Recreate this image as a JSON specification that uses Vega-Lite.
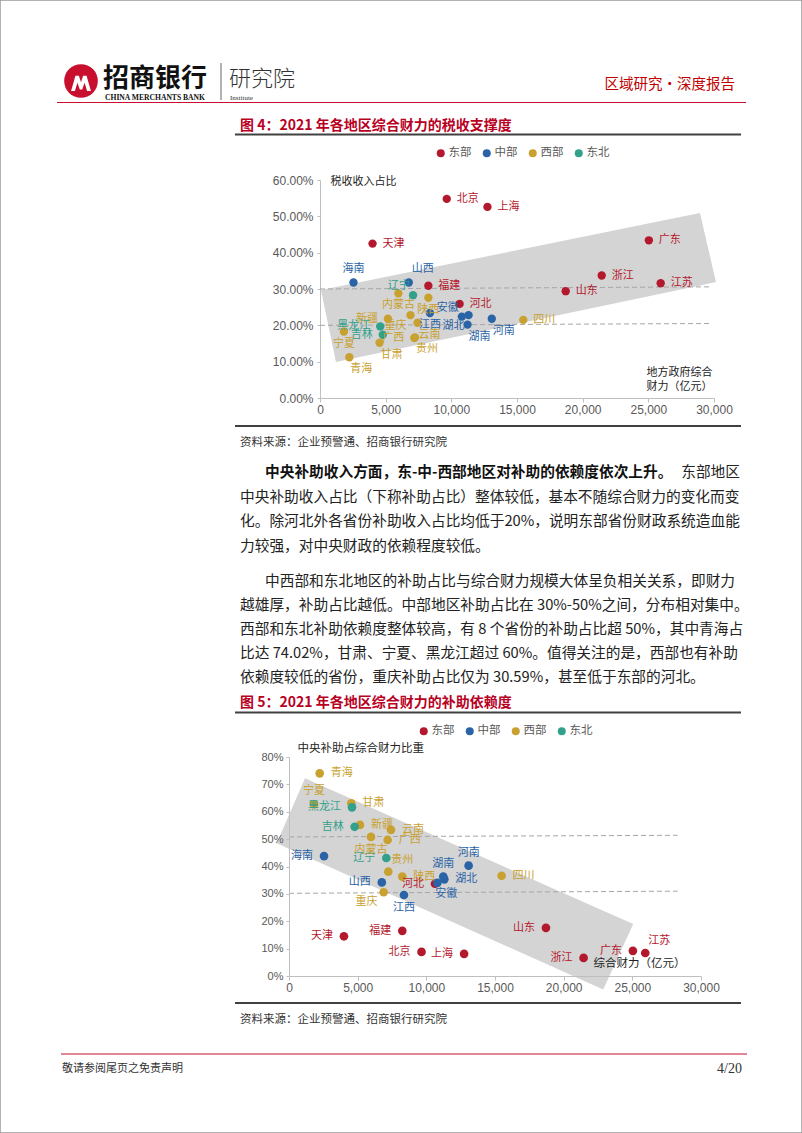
{
  "$schema": "https://vega.github.io/schema/vega-lite/v6.json",
  "width": 802,
  "height": 1133,
  "autosize": {"type": "none"},
  "padding": 0,
  "background": "#ffffff",
  "config": {
    "view": {"stroke": "#9a9a9a", "strokeWidth": 1.5},
    "font": "Noto Sans CJK SC",
    "axis": {"grid": false, "domainColor": "#BFBFBF", "tickColor": "#BFBFBF", "labelColor": "#595959", "labelFont": "Liberation Sans", "titleFont": "Noto Sans CJK SC", "titleColor": "#222222", "titleFontWeight": "normal", "labelFlush": false},
    "legend": {"orient": "none", "direction": "horizontal", "title": null, "symbolType": "circle", "symbolSize": 64, "labelFontSize": 11.5, "labelColor": "#595959", "labelFont": "Noto Sans CJK SC", "columnPadding": 9, "labelOffset": 2, "symbolStrokeWidth": 0}
  },
  "datasets": {
    "prov": [
      {"name": "北京", "region": "东部", "finance": 9650, "tax": 0.548, "subsidy": 0.088, "p1": "r", "p2": "l"},
      {"name": "天津", "region": "东部", "finance": 4000, "tax": 0.425, "subsidy": 0.145, "p1": "r", "p2": "l"},
      {"name": "河北", "region": "东部", "finance": 10630, "tax": 0.259, "subsidy": 0.337, "p1": "r", "p2": "l"},
      {"name": "上海", "region": "东部", "finance": 12750, "tax": 0.526, "subsidy": 0.081, "p1": "r", "p2": "l"},
      {"name": "江苏", "region": "东部", "finance": 25940, "tax": 0.316, "subsidy": 0.084, "p1": "r", "p2": "ar"},
      {"name": "浙江", "region": "东部", "finance": 21450, "tax": 0.337, "subsidy": 0.066, "p1": "r", "p2": "l"},
      {"name": "福建", "region": "东部", "finance": 8250, "tax": 0.309, "subsidy": 0.165, "p1": "r", "p2": "l"},
      {"name": "山东", "region": "东部", "finance": 18710, "tax": 0.294, "subsidy": 0.176, "p1": "r", "p2": "l"},
      {"name": "广东", "region": "东部", "finance": 25040, "tax": 0.434, "subsidy": 0.092, "p1": "r", "p2": "l"},
      {"name": "海南", "region": "中部", "finance": 2550, "tax": 0.318, "subsidy": 0.438, "p1": "a", "p2": "l"},
      {"name": "山西", "region": "中部", "finance": 6760, "tax": 0.318, "subsidy": 0.342, "p1": "ar", "p2": "l"},
      {"name": "安徽", "region": "中部", "finance": 10800, "tax": 0.224, "subsidy": 0.34, "p1": "al", "p2": "br"},
      {"name": "江西", "region": "中部", "finance": 8370, "tax": 0.234, "subsidy": 0.296, "p1": "b", "p2": "b"},
      {"name": "河南", "region": "中部", "finance": 13080, "tax": 0.218, "subsidy": 0.403, "p1": "br", "p2": "a"},
      {"name": "湖北", "region": "中部", "finance": 11310, "tax": 0.228, "subsidy": 0.353, "p1": "bl", "p2": "r"},
      {"name": "湖南", "region": "中部", "finance": 11235, "tax": 0.202, "subsidy": 0.363, "p1": "br", "p2": "a"},
      {"name": "内蒙古", "region": "西部", "finance": 5970, "tax": 0.288, "subsidy": 0.508, "p1": "b", "p2": "b"},
      {"name": "广西", "region": "西部", "finance": 7183, "tax": 0.165, "subsidy": 0.497, "p1": "l", "p2": "r"},
      {"name": "重庆", "region": "西部", "finance": 6890, "tax": 0.228, "subsidy": 0.3059, "p1": "bl", "p2": "bl"},
      {"name": "四川", "region": "西部", "finance": 15480, "tax": 0.215, "subsidy": 0.366, "p1": "r", "p2": "r"},
      {"name": "贵州", "region": "西部", "finance": 7230, "tax": 0.167, "subsidy": 0.381, "p1": "br", "p2": "ar"},
      {"name": "云南", "region": "西部", "finance": 7426, "tax": 0.207, "subsidy": 0.534, "p1": "br", "p2": "r"},
      {"name": "陕西", "region": "西部", "finance": 8250, "tax": 0.276, "subsidy": 0.363, "p1": "b", "p2": "r"},
      {"name": "甘肃", "region": "西部", "finance": 4536, "tax": 0.152, "subsidy": 0.631, "p1": "br", "p2": "r"},
      {"name": "青海", "region": "西部", "finance": 2234, "tax": 0.112, "subsidy": 0.7402, "p1": "br", "p2": "r"},
      {"name": "宁夏", "region": "西部", "finance": 1820, "tax": 0.183, "subsidy": 0.627, "p1": "b", "p2": "a"},
      {"name": "新疆", "region": "西部", "finance": 5170, "tax": 0.218, "subsidy": 0.552, "p1": "l", "p2": "r"},
      {"name": "辽宁", "region": "东北", "finance": 7085, "tax": 0.283, "subsidy": 0.431, "p1": "al", "p2": "l"},
      {"name": "吉林", "region": "东北", "finance": 4780, "tax": 0.174, "subsidy": 0.545, "p1": "l", "p2": "l"},
      {"name": "黑龙江", "region": "东北", "finance": 4586, "tax": 0.197, "subsidy": 0.616, "p1": "l", "p2": "l"}
    ],
    "band1": [
      {"finance": 76, "tax": 0.297, "tax2": 0.297},
      {"finance": 1218, "tax": 0.3054, "tax2": 0.099},
      {"finance": 28933, "tax": 0.509, "tax2": 0.3097},
      {"finance": 30151, "tax": 0.319, "tax2": 0.319}
    ],
    "ref1": [
      {"finance": 0, "tax": 0.3, "finance2": 29800, "tax2": 0.306},
      {"finance": 0, "tax": 0.2, "finance2": 29800, "tax2": 0.205}
    ],
    "band2": [
      {"finance": -895, "subsidy": 0.485, "subsidy2": 0.485},
      {"finance": 1165, "subsidy": 0.722, "subsidy2": 0.4387},
      {"finance": 22880, "subsidy": 0.2386, "subsidy2": -0.049},
      {"finance": 25065, "subsidy": 0.19, "subsidy2": 0.19}
    ],
    "ref2": [
      {"finance": 0, "subsidy": 0.508, "finance2": 28300, "subsidy2": 0.514},
      {"finance": 0, "subsidy": 0.302, "finance2": 28300, "subsidy2": 0.31}
    ],
    "para1": [
      {"line": 1, "indent": 1, "seg": "bold", "text": "中央补助收入方面，东-中-西部地区对补助的依赖度依次上升。"},
      {"line": 1, "indent": 1, "seg": "tail", "text": "东部地区"},
      {"line": 2, "indent": 0, "seg": "body", "text": "中央补助收入占比（下称补助占比）整体较低，基本不随综合财力的变化而变"},
      {"line": 3, "indent": 0, "seg": "body", "text": "化。除河北外各省份补助收入占比均低于20%，说明东部省份财政系统造血能"},
      {"line": 4, "indent": 0, "seg": "body", "text": "力较强，对中央财政的依赖程度较低。"}
    ],
    "para2": [
      {"line": 1, "indent": 1, "seg": "body", "text": "中西部和东北地区的补助占比与综合财力规模大体呈负相关关系，即财力"},
      {"line": 2, "indent": 0, "seg": "body", "text": "越雄厚，补助占比越低。中部地区补助占比在 30%-50%之间，分布相对集中。"},
      {"line": 3, "indent": 0, "seg": "body", "text": "西部和东北补助依赖度整体较高，有 8 个省份的补助占比超 50%，其中青海占"},
      {"line": 4, "indent": 0, "seg": "body", "text": "比达 74.02%，甘肃、宁夏、黑龙江超过 60%。值得关注的是，西部也有补助"},
      {"line": 5, "indent": 0, "seg": "body", "text": "依赖度较低的省份，重庆补助占比仅为 30.59%，甚至低于东部的河北。"}
    ]
  },
  "layer": [
    {"data": {"values": [{"t": "logo"}]}, "mark": {"type": "point", "shape": "circle", "filled": true, "size": 1134, "color": "#C8102E", "opacity": 1}, "encoding": {"x": {"value": 81}, "y": {"value": 81}}},
    {"data": {"values": [{"t": "logo-m"}]}, "mark": {"type": "point", "shape": "M -0.75 0.6 L -0.42 -0.55 L -0.16 -0.55 L 0 -0.05 L 0.16 -0.55 L 0.42 -0.55 L 0.75 0.6 L 0.46 0.6 L 0.27 -0.02 L 0.09 0.5 L -0.09 0.5 L -0.27 -0.02 L -0.46 0.6 Z", "filled": true, "size": 700, "color": "#ffffff", "opacity": 1}, "encoding": {"x": {"value": 81}, "y": {"value": 83}}},
    {"data": {"values": [{"t": "招商银行"}]}, "mark": {"type": "text", "align": "left", "baseline": "middle", "fontSize": 26, "fontWeight": "bold", "color": "#111111"}, "encoding": {"x": {"value": 103}, "y": {"value": 79}, "text": {"field": "t"}}},
    {"data": {"values": [{"t": "CHINA MERCHANTS BANK"}]}, "mark": {"type": "text", "align": "left", "baseline": "middle", "font": "Liberation Serif", "fontSize": 7.6, "fontWeight": "bold", "color": "#111111"}, "encoding": {"x": {"value": 105}, "y": {"value": 98}, "text": {"field": "t"}}},
    {"data": {"values": [{"t": "sep"}]}, "mark": {"type": "rule", "color": "#666666", "strokeWidth": 1}, "encoding": {"x": {"value": 221}, "y": {"value": 63}, "y2": {"value": 100}}},
    {"data": {"values": [{"t": "研究院"}]}, "mark": {"type": "text", "align": "left", "baseline": "middle", "fontSize": 22, "fontWeight": 300, "color": "#333333"}, "encoding": {"x": {"value": 229}, "y": {"value": 79}, "text": {"field": "t"}}},
    {"data": {"values": [{"t": "Institute"}]}, "mark": {"type": "text", "align": "left", "baseline": "middle", "font": "Liberation Serif", "fontSize": 7, "color": "#333333"}, "encoding": {"x": {"value": 230}, "y": {"value": 98}, "text": {"field": "t"}}},
    {"data": {"values": [{"t": "区域研究·深度报告"}]}, "mark": {"type": "text", "align": "right", "baseline": "middle", "fontSize": 14.5, "color": "#C00000"}, "encoding": {"x": {"value": 735}, "y": {"value": 85}, "text": {"field": "t"}}},
    {"data": {"values": [{"t": "header rule"}]}, "mark": {"type": "rule", "color": "#C8102E", "strokeWidth": 1.2}, "encoding": {"x": {"value": 57}, "x2": {"value": 746}, "y": {"value": 102.5}}},
    {"data": {"values": [{"t": "图 4：2021 年各地区综合财力的税收支撑度"}]}, "mark": {"type": "text", "align": "left", "baseline": "middle", "fontSize": 14, "fontWeight": "bold", "color": "#B8001F"}, "encoding": {"x": {"value": 240}, "y": {"value": 126}, "text": {"field": "t"}}},
    {"data": {"values": [{"t": "rule"}]}, "mark": {"type": "rule", "color": "#404040", "strokeWidth": 2}, "encoding": {"x": {"value": 235}, "x2": {"value": 741}, "y": {"value": 134.5}}},
    {
      "encoding": {
        "x": {"field": "finance", "type": "quantitative", "scale": {"domain": [0, 30000], "range": [320, 714], "nice": false, "zero": false},
          "axis": {"orient": "bottom", "values": [0, 5000, 10000, 15000, 20000, 25000, 30000], "format": ",d", "offset": -735, "labelFontSize": 12, "tickSize": 4, "labelPadding": 2, "title": ["地方政府综合", "财力（亿元）"], "titleX": 712, "titleY": -32, "titleAlign": "right", "titleAngle": 0, "titleBaseline": "top", "titleFontSize": 11, "titleLineHeight": 14.5}},
        "y": {"field": "tax", "type": "quantitative", "scale": {"domain": [0, 0.6], "range": [398, 180], "nice": false, "zero": false},
          "axis": {"orient": "left", "values": [0, 0.1, 0.2, 0.3, 0.4, 0.5, 0.6], "format": ".2%", "offset": -320, "tickSize": 3, "labelPadding": 4, "labelFontSize": 12, "title": "税收收入占比", "titleAngle": 0, "titleAlign": "left", "titleBaseline": "middle", "titleX": 10, "titleY": 181, "titleFontSize": 11}}
      },
      "layer": [
        {"data": {"name": "band1"}, "mark": {"type": "area", "color": "#D4D4D4", "opacity": 1, "interpolate": "linear"}, "encoding": {"y2": {"field": "tax2"}}},
        {"data": {"name": "ref1"}, "mark": {"type": "rule", "color": "#A6A6A6", "strokeDash": [5, 3], "strokeWidth": 1}, "encoding": {"x2": {"field": "finance2"}, "y2": {"field": "tax2"}}},
        {"data": {"name": "prov"}, "mark": {"type": "circle", "size": 70, "opacity": 1},
          "encoding": {"color": {"field": "region", "type": "nominal", "scale": {"domain": ["东部", "中部", "西部", "东北"], "range": ["#B4182D", "#2A63A6", "#C9A130", "#32A08A"]}, "legend": {"legendX": 435, "legendY": 147}}}},
        {"data": {"name": "prov"}, "transform": [{"filter": "datum.p1 == 'r'"}], "mark": {"type": "text", "align": "left", "baseline": "middle", "dx": 10, "fontSize": 11},
          "encoding": {"text": {"field": "name"}, "color": {"field": "region", "type": "nominal", "scale": {"domain": ["东部", "中部", "西部", "东北"], "range": ["#B4182D", "#2A63A6", "#C9A130", "#32A08A"]}}}},
        {"data": {"name": "prov"}, "transform": [{"filter": "datum.p1 == 'l'"}], "mark": {"type": "text", "align": "right", "baseline": "middle", "dx": -10, "fontSize": 11},
          "encoding": {"text": {"field": "name"}, "color": {"field": "region", "type": "nominal", "scale": {"domain": ["东部", "中部", "西部", "东北"], "range": ["#B4182D", "#2A63A6", "#C9A130", "#32A08A"]}}}},
        {"data": {"name": "prov"}, "transform": [{"filter": "datum.p1 == 'a'"}], "mark": {"type": "text", "align": "center", "baseline": "middle", "dy": -13, "fontSize": 11},
          "encoding": {"text": {"field": "name"}, "color": {"field": "region", "type": "nominal", "scale": {"domain": ["东部", "中部", "西部", "东北"], "range": ["#B4182D", "#2A63A6", "#C9A130", "#32A08A"]}}}},
        {"data": {"name": "prov"}, "transform": [{"filter": "datum.p1 == 'b'"}], "mark": {"type": "text", "align": "center", "baseline": "middle", "dy": 12, "fontSize": 11},
          "encoding": {"text": {"field": "name"}, "color": {"field": "region", "type": "nominal", "scale": {"domain": ["东部", "中部", "西部", "东北"], "range": ["#B4182D", "#2A63A6", "#C9A130", "#32A08A"]}}}},
        {"data": {"name": "prov"}, "transform": [{"filter": "datum.p1 == 'ar'"}], "mark": {"type": "text", "align": "left", "baseline": "middle", "dx": 3, "dy": -13, "fontSize": 11},
          "encoding": {"text": {"field": "name"}, "color": {"field": "region", "type": "nominal", "scale": {"domain": ["东部", "中部", "西部", "东北"], "range": ["#B4182D", "#2A63A6", "#C9A130", "#32A08A"]}}}},
        {"data": {"name": "prov"}, "transform": [{"filter": "datum.p1 == 'al'"}], "mark": {"type": "text", "align": "right", "baseline": "middle", "dx": -3, "dy": -9, "fontSize": 11},
          "encoding": {"text": {"field": "name"}, "color": {"field": "region", "type": "nominal", "scale": {"domain": ["东部", "中部", "西部", "东北"], "range": ["#B4182D", "#2A63A6", "#C9A130", "#32A08A"]}}}},
        {"data": {"name": "prov"}, "transform": [{"filter": "datum.p1 == 'br'"}], "mark": {"type": "text", "align": "left", "baseline": "middle", "dx": 1, "dy": 12, "fontSize": 11},
          "encoding": {"text": {"field": "name"}, "color": {"field": "region", "type": "nominal", "scale": {"domain": ["东部", "中部", "西部", "东北"], "range": ["#B4182D", "#2A63A6", "#C9A130", "#32A08A"]}}}},
        {"data": {"name": "prov"}, "transform": [{"filter": "datum.p1 == 'bl'"}], "mark": {"type": "text", "align": "right", "baseline": "middle", "dx": -4, "dy": 11, "fontSize": 11},
          "encoding": {"text": {"field": "name"}, "color": {"field": "region", "type": "nominal", "scale": {"domain": ["东部", "中部", "西部", "东北"], "range": ["#B4182D", "#2A63A6", "#C9A130", "#32A08A"]}}}}
      ]
    },
    {"data": {"values": [{"t": "rule"}]}, "mark": {"type": "rule", "color": "#404040", "strokeWidth": 2}, "encoding": {"x": {"value": 235}, "x2": {"value": 741}, "y": {"value": 426}}},
    {"data": {"values": [{"t": "资料来源：企业预警通、招商银行研究院"}]}, "mark": {"type": "text", "align": "left", "baseline": "middle", "fontSize": 11.5, "color": "#333333"}, "encoding": {"x": {"value": 240}, "y": {"value": 443}, "text": {"field": "t"}}},
    {
      "data": {"name": "para1"},
      "encoding": {"y": {"field": "line", "type": "quantitative", "scale": {"domain": [1, 4], "range": [473, 547], "nice": false, "zero": false}, "axis": null}},
      "layer": [
        {"transform": [{"filter": "datum.seg == 'body'"}], "mark": {"type": "text", "align": "left", "baseline": "middle", "fontSize": 14.7, "color": "#222222"},
          "encoding": {"x": {"field": "indent", "type": "quantitative", "scale": {"domain": [0, 1], "range": [240, 265], "nice": false, "zero": false}, "axis": null}, "text": {"field": "text"}}},
        {"transform": [{"filter": "datum.seg == 'bold'"}], "mark": {"type": "text", "align": "left", "baseline": "middle", "fontSize": 14.7, "fontWeight": "bold", "color": "#111111"},
          "encoding": {"x": {"field": "indent", "type": "quantitative", "scale": {"domain": [0, 1], "range": [240, 265], "nice": false, "zero": false}, "axis": null}, "text": {"field": "text"}}},
        {"transform": [{"filter": "datum.seg == 'tail'"}], "mark": {"type": "text", "align": "right", "baseline": "middle", "fontSize": 14.7, "color": "#222222"},
          "encoding": {"x": {"value": 740}, "text": {"field": "text"}}}
      ]
    },
    {
      "data": {"name": "para2"},
      "encoding": {"y": {"field": "line", "type": "quantitative", "scale": {"domain": [1, 5], "range": [582, 678], "nice": false, "zero": false}, "axis": null}},
      "layer": [
        {"mark": {"type": "text", "align": "left", "baseline": "middle", "fontSize": 14.7, "color": "#222222"},
          "encoding": {"x": {"field": "indent", "type": "quantitative", "scale": {"domain": [0, 1], "range": [240, 265], "nice": false, "zero": false}, "axis": null}, "text": {"field": "text"}}}
      ]
    },
    {"data": {"values": [{"t": "图 5：2021 年各地区综合财力的补助依赖度"}]}, "mark": {"type": "text", "align": "left", "baseline": "middle", "fontSize": 14, "fontWeight": "bold", "color": "#B8001F"}, "encoding": {"x": {"value": 240}, "y": {"value": 703}, "text": {"field": "t"}}},
    {"data": {"values": [{"t": "rule"}]}, "mark": {"type": "rule", "color": "#404040", "strokeWidth": 2}, "encoding": {"x": {"value": 235}, "x2": {"value": 741}, "y": {"value": 712.5}}},
    {
      "encoding": {
        "x": {"field": "finance", "type": "quantitative", "scale": {"domain": [0, 30000], "range": [289, 701], "nice": false, "zero": false},
          "axis": {"orient": "bottom", "zindex": 1, "values": [0, 5000, 10000, 15000, 20000, 25000, 30000], "format": ",d", "offset": -157, "labelFontSize": 12, "tickSize": 4, "labelPadding": 2, "title": "综合财力（亿元）", "titleX": 593, "titleY": -13, "titleAlign": "left", "titleAngle": 0, "titleBaseline": "middle", "titleFontSize": 11.5}},
        "y": {"field": "subsidy", "type": "quantitative", "scale": {"domain": [0, 0.8], "range": [976, 757], "nice": false, "zero": false},
          "axis": {"orient": "left", "zindex": 1, "values": [0, 0.1, 0.2, 0.3, 0.4, 0.5, 0.6, 0.7, 0.8], "format": ".0%", "offset": -289, "tickSize": 3, "labelPadding": 3, "labelFontSize": 11, "title": "中央补助占综合财力比重", "titleAngle": 0, "titleAlign": "left", "titleBaseline": "middle", "titleX": 8, "titleY": 748, "titleFontSize": 11.5}}
      },
      "layer": [
        {"data": {"name": "band2"}, "mark": {"type": "area", "color": "#D4D4D4", "opacity": 1, "interpolate": "linear"}, "encoding": {"y2": {"field": "subsidy2"}}},
        {"data": {"name": "ref2"}, "mark": {"type": "rule", "color": "#A6A6A6", "strokeDash": [5, 3], "strokeWidth": 1}, "encoding": {"x2": {"field": "finance2"}, "y2": {"field": "subsidy2"}}},
        {"data": {"name": "prov"}, "mark": {"type": "circle", "size": 75, "opacity": 1},
          "encoding": {"color": {"field": "region", "type": "nominal", "scale": {"domain": ["东部", "中部", "西部", "东北"], "range": ["#B4182D", "#2A63A6", "#C9A130", "#32A08A"]}, "legend": {"legendX": 418, "legendY": 725}}}},
        {"data": {"name": "prov"}, "transform": [{"filter": "datum.p2 == 'r'"}], "mark": {"type": "text", "align": "left", "baseline": "middle", "dx": 11, "fontSize": 11},
          "encoding": {"text": {"field": "name"}, "color": {"field": "region", "type": "nominal", "scale": {"domain": ["东部", "中部", "西部", "东北"], "range": ["#B4182D", "#2A63A6", "#C9A130", "#32A08A"]}}}},
        {"data": {"name": "prov"}, "transform": [{"filter": "datum.p2 == 'l'"}], "mark": {"type": "text", "align": "right", "baseline": "middle", "dx": -11, "fontSize": 11},
          "encoding": {"text": {"field": "name"}, "color": {"field": "region", "type": "nominal", "scale": {"domain": ["东部", "中部", "西部", "东北"], "range": ["#B4182D", "#2A63A6", "#C9A130", "#32A08A"]}}}},
        {"data": {"name": "prov"}, "transform": [{"filter": "datum.p2 == 'a'"}], "mark": {"type": "text", "align": "center", "baseline": "middle", "dy": -13, "fontSize": 11},
          "encoding": {"text": {"field": "name"}, "color": {"field": "region", "type": "nominal", "scale": {"domain": ["东部", "中部", "西部", "东北"], "range": ["#B4182D", "#2A63A6", "#C9A130", "#32A08A"]}}}},
        {"data": {"name": "prov"}, "transform": [{"filter": "datum.p2 == 'b'"}], "mark": {"type": "text", "align": "center", "baseline": "middle", "dy": 13, "fontSize": 11},
          "encoding": {"text": {"field": "name"}, "color": {"field": "region", "type": "nominal", "scale": {"domain": ["东部", "中部", "西部", "东北"], "range": ["#B4182D", "#2A63A6", "#C9A130", "#32A08A"]}}}},
        {"data": {"name": "prov"}, "transform": [{"filter": "datum.p2 == 'ar'"}], "mark": {"type": "text", "align": "left", "baseline": "middle", "dx": 3, "dy": -12, "fontSize": 11},
          "encoding": {"text": {"field": "name"}, "color": {"field": "region", "type": "nominal", "scale": {"domain": ["东部", "中部", "西部", "东北"], "range": ["#B4182D", "#2A63A6", "#C9A130", "#32A08A"]}}}},
        {"data": {"name": "prov"}, "transform": [{"filter": "datum.p2 == 'br'"}], "mark": {"type": "text", "align": "left", "baseline": "middle", "dx": -2, "dy": 11, "fontSize": 11},
          "encoding": {"text": {"field": "name"}, "color": {"field": "region", "type": "nominal", "scale": {"domain": ["东部", "中部", "西部", "东北"], "range": ["#B4182D", "#2A63A6", "#C9A130", "#32A08A"]}}}},
        {"data": {"name": "prov"}, "transform": [{"filter": "datum.p2 == 'bl'"}], "mark": {"type": "text", "align": "right", "baseline": "middle", "dx": -6, "dy": 10, "fontSize": 11},
          "encoding": {"text": {"field": "name"}, "color": {"field": "region", "type": "nominal", "scale": {"domain": ["东部", "中部", "西部", "东北"], "range": ["#B4182D", "#2A63A6", "#C9A130", "#32A08A"]}}}}
      ]
    },
    {"data": {"values": [{"t": "rule"}]}, "mark": {"type": "rule", "color": "#404040", "strokeWidth": 2}, "encoding": {"x": {"value": 235}, "x2": {"value": 741}, "y": {"value": 1003}}},
    {"data": {"values": [{"t": "资料来源：企业预警通、招商银行研究院"}]}, "mark": {"type": "text", "align": "left", "baseline": "middle", "fontSize": 11.5, "color": "#333333"}, "encoding": {"x": {"value": 240}, "y": {"value": 1020}, "text": {"field": "t"}}},
    {"data": {"values": [{"t": "footer rule"}]}, "mark": {"type": "rule", "color": "#C8102E", "strokeWidth": 1.2}, "encoding": {"x": {"value": 61}, "x2": {"value": 747}, "y": {"value": 1054}}},
    {"data": {"values": [{"t": "敬请参阅尾页之免责声明"}]}, "mark": {"type": "text", "align": "left", "baseline": "middle", "fontSize": 11, "color": "#333333"}, "encoding": {"x": {"value": 62}, "y": {"value": 1069}, "text": {"field": "t"}}},
    {"data": {"values": [{"t": "4/20"}]}, "mark": {"type": "text", "align": "right", "baseline": "middle", "font": "Liberation Serif", "fontSize": 14, "color": "#333333"}, "encoding": {"x": {"value": 742}, "y": {"value": 1069}, "text": {"field": "t"}}}
  ],
  "resolve": {
    "scale": {"x": "independent", "y": "independent", "color": "independent"},
    "axis": {"x": "independent", "y": "independent"},
    "legend": {"color": "independent"}
  }
}
